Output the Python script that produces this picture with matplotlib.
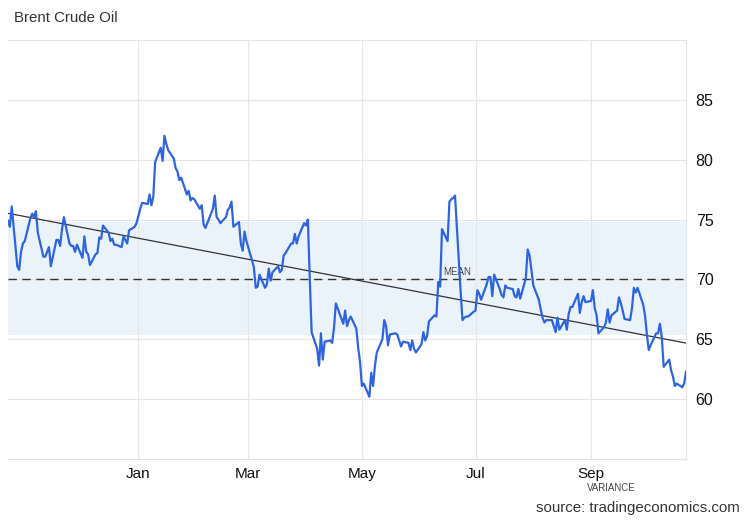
import numpy as np
import pandas as pd
import matplotlib
matplotlib.use("Agg")
from matplotlib import pyplot as plt
import matplotlib.dates as mdates
import matplotlib.transforms as mtransforms

plt.rcParams['font.family'] = ['Liberation Sans', 'DejaVu Sans']

# daily Brent closes (USD/bbl), one list per month, business days only
oct24 = [74.9, 74.4, 76.1, 71.1, 70.8, 72.3, 73.0]
nov24 = [73.2, 75.1, 75.5, 75.2, 75.7, 73.9, 71.9, 71.9, 72.3, 72.7, 71.1,
         73.3, 73.3, 72.8, 74.2, 75.2, 73.0, 72.8, 72.8, 72.3, 72.9]
dec24 = [71.8, 73.6, 72.3, 72.1, 71.2, 72.1, 72.2, 73.5, 73.4, 74.5, 73.9,
         73.2, 73.4, 72.9, 72.9, 72.7, 73.6, 73.0, 74.1, 74.4, 74.7]
jan25 = [75.9, 76.4, 76.3, 77.1, 76.2, 76.9, 79.8, 81.0, 79.9, 82.0, 81.3,
         80.8, 80.1, 79.3, 79.0, 78.3, 78.5, 77.1, 77.4, 76.6, 76.8, 76.7]
feb25 = [75.9, 76.2, 74.6, 74.3, 74.7, 75.9, 77.0, 75.2, 75.0, 74.7, 75.2,
         75.8, 76.0, 76.5, 74.4, 74.8, 73.0, 72.4, 74.0, 73.2]
mar25 = [71.6, 71.0, 69.3, 69.4, 70.4, 69.3, 69.6, 70.9, 69.9, 70.6, 71.1,
         70.6, 70.8, 72.0, 72.2, 73.0, 73.0, 73.8, 73.0, 73.6, 74.7]
apr25 = [74.5, 75.0, 70.1, 65.6, 64.2, 62.8, 65.5, 63.3, 64.8, 64.9, 64.7,
         65.9, 68.0, 66.3, 67.4, 66.1, 66.6, 66.9, 65.9, 64.3, 63.1]
may25 = [61.1, 61.3, 60.2, 62.2, 61.1, 62.8, 63.9, 65.0, 66.6, 66.1, 64.5,
         65.4, 65.5, 65.4, 64.9, 64.4, 64.8, 64.7, 64.1, 64.9, 64.2, 63.9]
jun25 = [64.6, 65.6, 64.9, 65.3, 66.5, 67.0, 66.9, 69.8, 69.4, 74.2, 73.2,
         76.5, 76.7, 76.8, 77.0, 69.0, 66.6, 66.8, 66.9, 66.9, 67.3]
jul25 = [67.4, 69.1, 68.8, 68.3, 69.6, 70.2, 70.2, 68.6, 70.4, 69.2, 68.7,
         68.5, 69.5, 69.3, 69.2, 68.6, 68.5, 69.2, 68.4, 70.1, 72.5, 72.0, 70.8]
aug25 = [69.5, 68.3, 67.5, 66.8, 66.4, 66.6, 66.6, 66.1, 65.6, 66.8, 65.8,
         66.6, 65.8, 67.1, 67.7, 67.7, 68.8, 67.2, 68.1, 68.6, 68.1]
sep25 = [68.2, 69.1, 67.6, 67.0, 65.5, 66.0, 66.4, 67.5, 66.4, 67.0, 67.4,
         68.5, 68.0, 67.4, 66.7, 66.6, 67.6, 69.3, 68.9, 69.3, 67.9, 67.0]
oct25 = [65.4, 64.1, 64.5, 65.5, 65.5, 66.3, 65.2, 62.7, 63.3, 62.4, 61.9,
         61.1, 61.3, 61.0, 61.3, 62.3]

holidays = ['2024-12-25', '2025-01-01', '2025-04-18']
month_ticks = [1, 3, 5, 7, 9]

prices = np.array(oct24 + nov24 + dec24 + jan25 + feb25 + mar25 + apr25 +
                  may25 + jun25 + jul25 + aug25 + sep25 + oct25)
dates = pd.bdate_range('2024-10-23', '2025-10-22')
dates = dates[~dates.isin(pd.to_datetime(holidays))]
assert len(dates) == len(prices)

mean = prices.mean()
sd = prices.std()
xnum = mdates.date2num(dates)
k, b = np.polyfit(xnum, prices, 1)

fig = plt.figure(figsize=(7.5, 5.2), dpi=100)
ax = fig.add_axes([8/750, 61/520, 678/750, 419/520])

ax.axhspan(mean - sd, mean + sd, color='#eaf3fa', zorder=0, lw=0)
ax.axhline(mean, color='#333333', lw=1.0, ls=(0, (6, 4)), zorder=2)
ax.plot(dates, k*xnum + b, color='#333333', lw=0.9, zorder=3)
ax.plot(dates, prices, color='#2d64e1', lw=1.6, zorder=4)

ax.set_xlim(dates[0], dates[-1])
ax.set_ylim(55, 90)
ax.yaxis.tick_right()
ax.set_yticks(np.arange(55, 91, 5))
ax.set_yticklabels([''] + [str(v) for v in range(60, 90, 5)] + [''])
ax.xaxis.set_major_locator(mdates.MonthLocator(bymonth=month_ticks))
ax.xaxis.set_major_formatter(mdates.DateFormatter('%b'))
ax.tick_params(axis='both', length=0, colors='#111111')
ax.tick_params(axis='x', pad=6, labelsize=11)
ax.tick_params(axis='y', pad=7, labelsize=11.5)
ax.grid(True, color='#e6e6e6', lw=0.8)
ax.set_axisbelow(True)
for s in ['left', 'top']:
    ax.spines[s].set_visible(False)
ax.spines['bottom'].set_color('#e0e0e0')
ax.spines['right'].set_color('#e6e6e6')

trans = mtransforms.blended_transform_factory(ax.transAxes, ax.transData)
ax.text(0.642, mean + 0.15, 'MEAN', transform=trans, fontsize=7,
        color='#444444', va='bottom')
ax.text(0.854, -0.07, 'VARIANCE', transform=ax.transAxes, fontsize=7,
        color='#444444', va='center')

fig.text(14/750, 1 - 18/520, 'Brent Crude Oil', fontsize=10.8,
         color='#333333', va='center')
fig.text(740/750, 1 - 508/520, 'source: tradingeconomics.com', fontsize=10.8,
         color='#333333', va='center', ha='right')

plt.savefig('out.png', dpi=100)
